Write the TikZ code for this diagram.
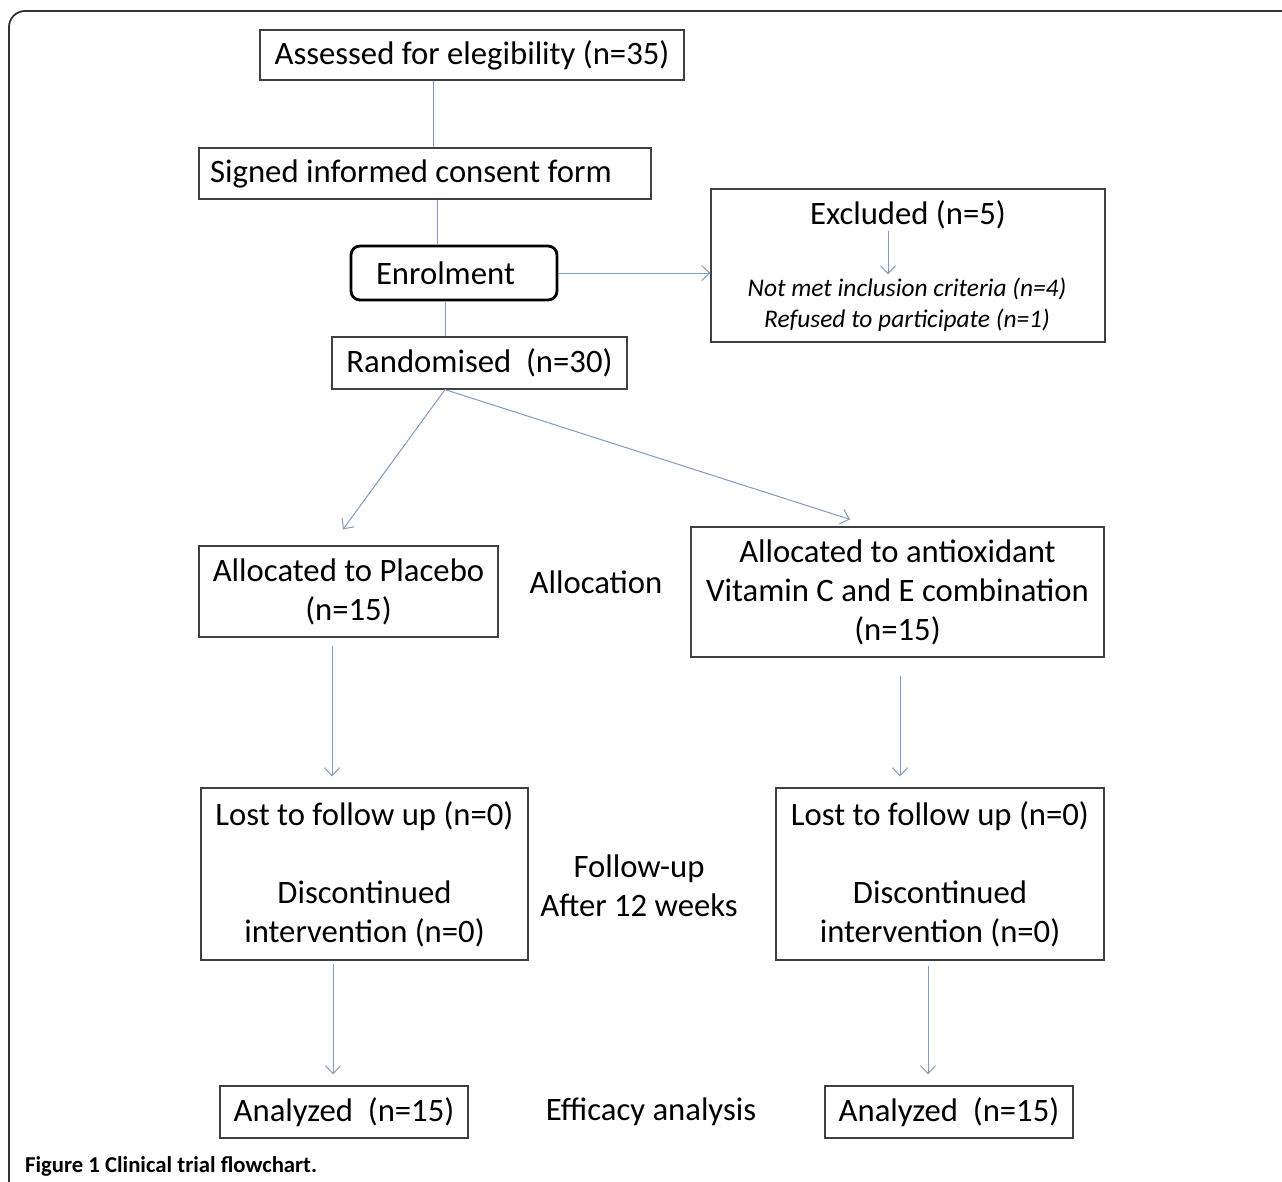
\documentclass[tikz,border=0pt]{standalone}
\usepackage{fontspec}
\setmainfont{Carlito}
\usetikzlibrary{arrows.meta,calc}
\definecolor{conn}{HTML}{7F9BC6}
\definecolor{boxline}{HTML}{404040}
\begin{document}
\begin{tikzpicture}[x=1pt,y=-1pt,
  every node/.style={font=\fontsize{32.7}{39}\selectfont, inner sep=0pt, align=center},
  box/.style={draw=boxline, line width=1.2pt, rectangle},
  enrolbox/.style={draw=black, line width=2.8pt, rounded corners=9pt},
  link/.style={draw=conn, line width=1pt},
  arr/.style={link, -{Straight Barb[length=8pt,width=15pt,line width=1pt]}},
  note/.style={font=\fontsize{25.4}{31}\selectfont\itshape}
]
\useasboundingbox (0,0) rectangle (1282,1181);
\draw[boxline!80!black, line width=1.8pt, rounded corners=16pt] (9,1183) -- (9,11) -- (1284,11);

\node[box, minimum width=424pt, minimum height=50pt] (assess) at (472,55) {Assessed for elegibility (n=35)};
\node[box, minimum width=452pt, minimum height=51pt] (sign) at (425,173.5) {Signed informed consent form\hspace*{28pt}};
\node[enrolbox, minimum width=206pt, minimum height=54pt] (enrol) at (454,273) {Enrolment\hspace*{17pt}};
\node[box, minimum width=295pt, minimum height=52pt] (rand) at (479.5,363) {Randomised~~(n=30)};

\node[box, minimum width=394pt, minimum height=153pt] (excl) at (908,265.5) {};
\node (exclt) at (908,215) {Excluded (n=5)};
\node[note] (excld) at (907,304.5) {Not met inclusion criteria (n=4)\\Refused to participate (n=1)};

\node[box, minimum width=299pt, minimum height=91pt] (plac) at (348.5,591.5) {Allocated to Placebo\\(n=15)};
\node[box, minimum width=413pt, minimum height=130pt] (anti) at (897.5,592) {Allocated to antioxidant\\Vitamin C and E combination\\(n=15)};
\node (alloc) at (596,582) {Allocation};

\node[box, minimum width=327pt, minimum height=172pt] (lostL) at (364.5,874) {Lost to follow up (n=0)\\~\\Discontinued\\intervention (n=0)};
\node[box, minimum width=328pt, minimum height=172pt] (lostR) at (940,874) {Lost to follow up (n=0)\\~\\Discontinued\\intervention (n=0)};
\node (follow) at (639,885.5) {Follow-up\\After 12 weeks};

\node[box, minimum width=248pt, minimum height=52pt] (anaL) at (344,1112) {Analyzed~~(n=15)};
\node[box, minimum width=248pt, minimum height=52pt] (anaR) at (949,1112) {Analyzed~~(n=15)};
\node (eff) at (651,1112) {Efficacy analysis};

\node[anchor=west, font=\fontsize{22.7}{26}\selectfont\bfseries] (cap) at (25,1166) {Figure 1 Clinical trial flowchart.};

% connectors
\draw[link] ([xshift=-39pt]assess.south) -- ([xshift=8pt]sign.north);
\draw[link] ([xshift=12pt]sign.south) -- ([xshift=-17pt]enrol.north);
\draw[link] ([xshift=-9pt]enrol.south) -- ([xshift=-34.5pt]rand.north);
\draw[arr] (enrol.east) -- (excl.west |- enrol.east);
\draw[arr] ($(exclt.south)+(-20,2)$) -- ($(excld.north)+(-19,-3)$);

\coordinate (pa) at ($(plac.north)+(-5.5,-16)$);
\coordinate (aa) at ($(anti.north)+(-47.5,-7)$);
\draw[arr] ($(rand.south)+(-34.5,0)$) -- (pa);
\draw[arr] ($(rand.south)+(-34.5,0)$) -- (aa);

\draw[arr] ($(plac.south)+(-16.5,8)$) -- ($(lostL.north)+(-32.5,-11)$);
\draw[arr] ($(anti.south)+(2.5,18)$) -- ($(lostR.north)+(-40,-11)$);
\draw[arr] ($(lostL.south)+(-31.5,3)$) -- ($(anaL.north)+(-11,-11)$);
\draw[arr] ($(lostR.south)+(-12,5)$) -- ($(anaR.north)+(-21,-11)$);
\end{tikzpicture}
\end{document}
